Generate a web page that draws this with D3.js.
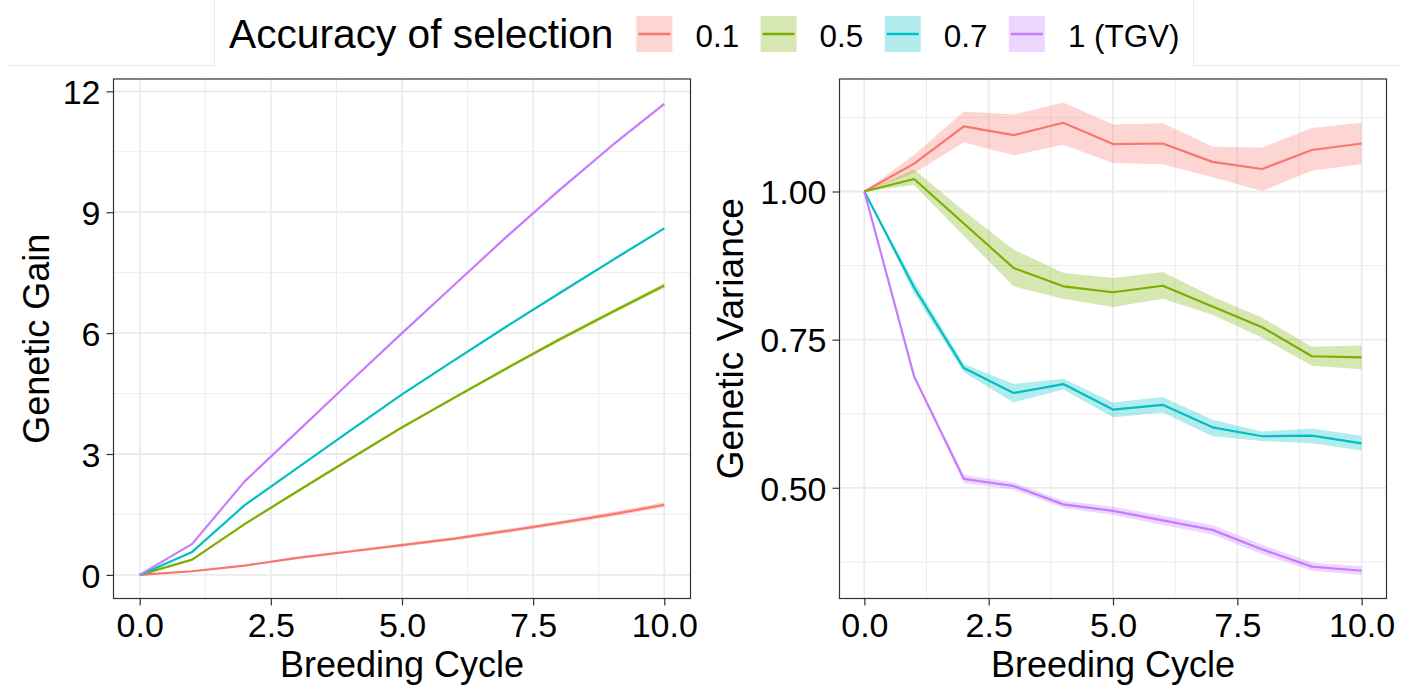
<!DOCTYPE html>
<html><head><meta charset="utf-8">
<script src="https://cdn.jsdelivr.net/npm/d3@7"></script>
<style>
body{margin:0;background:#fff}
text{font-family:"Liberation Sans", Arial, Helvetica, sans-serif; fill:#000}
</style>
</head><body>
<svg id="chart" width="1402" height="685"></svg>
<script>
// ---------------- DATA ----------------
const cycles = [0,1,2,3,4,5,6,7,8,9,10];
const seriesLabels = ["0.1","0.5","0.7","1 (TGV)"];
const seriesColors = ["#F8766D","#7CAE00","#00BFC4","#C77CFF"];
const legendTitle = "Accuracy of selection";

// Genetic gain (left panel)
const gain01   = [0,0.09,0.23,0.42,0.58,0.74,0.90,1.09,1.29,1.50,1.74];
const gain01Lo = [0,0.08,0.21,0.39,0.55,0.70,0.86,1.04,1.24,1.44,1.68];
const gain01Hi = [0,0.10,0.25,0.45,0.61,0.78,0.94,1.14,1.34,1.56,1.80];
const gain05   = [0,0.38,1.26,2.07,2.87,3.66,4.40,5.13,5.84,6.52,7.18];
const gain05Lo = [0,0.36,1.23,2.04,2.84,3.62,4.36,5.09,5.79,6.47,7.12];
const gain05Hi = [0,0.40,1.29,2.10,2.90,3.70,4.44,5.17,5.89,6.57,7.24];
const gain07   = [0,0.57,1.73,2.65,3.57,4.48,5.33,6.17,6.99,7.80,8.60];
const gain07Lo = [0,0.56,1.71,2.63,3.55,4.46,5.31,6.15,6.96,7.77,8.57];
const gain07Hi = [0,0.58,1.75,2.67,3.59,4.50,5.35,6.19,7.02,7.83,8.63];
const gain1    = [0,0.77,2.32,3.55,4.78,6.00,7.20,8.40,9.55,10.65,11.69];
const gain1Lo  = [0,0.76,2.30,3.53,4.76,5.98,7.18,8.37,9.52,10.62,11.66];
const gain1Hi  = [0,0.78,2.34,3.57,4.80,6.02,7.22,8.43,9.58,10.68,11.72];

// Genetic variance (right panel)
const var01   = [1.000,1.047,1.110,1.095,1.116,1.080,1.081,1.050,1.038,1.070,1.081];
const var01Lo = [1.000,1.031,1.083,1.061,1.079,1.048,1.046,1.024,1.001,1.035,1.046];
const var01Hi = [1.000,1.062,1.135,1.130,1.150,1.113,1.115,1.076,1.074,1.107,1.116];
const var05   = [1.000,1.021,0.946,0.871,0.840,0.830,0.841,0.806,0.771,0.722,0.720];
const var05Lo = [1.000,1.011,0.925,0.840,0.819,0.805,0.819,0.792,0.753,0.706,0.700];
const var05Hi = [1.000,1.037,0.967,0.902,0.863,0.854,0.864,0.823,0.787,0.738,0.740];
const var07   = [1.000,0.838,0.702,0.660,0.675,0.632,0.640,0.602,0.587,0.588,0.575];
const var07Lo = [1.000,0.828,0.695,0.644,0.666,0.619,0.627,0.587,0.579,0.575,0.563];
const var07Hi = [1.000,0.848,0.709,0.675,0.684,0.644,0.653,0.615,0.595,0.600,0.588];
const var1    = [1.000,0.688,0.515,0.503,0.472,0.461,0.445,0.429,0.396,0.367,0.360];
const var1Lo  = [1.000,0.684,0.508,0.497,0.466,0.454,0.437,0.421,0.388,0.360,0.353];
const var1Hi  = [1.000,0.692,0.522,0.509,0.478,0.468,0.453,0.437,0.404,0.374,0.367];

const xTicks = [0,2.5,5,7.5,10];
const xMinor = [1.25,3.75,6.25,8.75];
const gainTicks = [0,3,6,9,12];
const gainMinor = [1.5,4.5,7.5,10.5];
const varTicks = [0.50,0.75,1.00];
const varMinor = [0.375,0.625,0.875,1.125];
const xTitle = "Breeding Cycle";

// ---------------- DRAW ----------------
const svg = d3.select("#chart");
svg.append("rect").attr("width",1402).attr("height",685).attr("fill","#fff");

function build(vals, lo, hi){
  return cycles.map((c,i)=>({x:c, y:vals[i], lo:lo[i], hi:hi[i]}));
}
const leftSeries = [
  build(gain01,gain01Lo,gain01Hi), build(gain05,gain05Lo,gain05Hi),
  build(gain07,gain07Lo,gain07Hi), build(gain1,gain1Lo,gain1Hi)];
const rightSeries = [
  build(var01,var01Lo,var01Hi), build(var05,var05Lo,var05Hi),
  build(var07,var07Lo,var07Hi), build(var1,var1Lo,var1Hi)];

function expand(ext){ const r = ext[1]-ext[0]; return [ext[0]-0.05*r, ext[1]+0.05*r]; }

function panel(opt){
  const {x0,x1,y0,y1,series,yTicks,yMinor,yFmt,yTitle,yTitleX,yTitleSize} = opt;
  const xs = d3.scaleLinear().domain(expand(d3.extent(cycles))).range([x0,x1]);
  const all = series.flat();
  const ys = d3.scaleLinear().domain(expand([d3.min(all,d=>d.lo), d3.max(all,d=>d.hi)])).range([y1,y0]);
  const g = svg.append("g");
  const grid = g.append("g");
  grid.selectAll(".ym").data(yMinor).join("line")
    .attr("x1",x0).attr("x2",x1).attr("y1",d=>ys(d)).attr("y2",d=>ys(d))
    .attr("stroke","#ebebeb").attr("stroke-width",0.9);
  grid.selectAll(".xm").data(xMinor).join("line")
    .attr("y1",y0).attr("y2",y1).attr("x1",d=>xs(d)).attr("x2",d=>xs(d))
    .attr("stroke","#ebebeb").attr("stroke-width",0.9);
  grid.selectAll(".yM").data(yTicks).join("line")
    .attr("x1",x0).attr("x2",x1).attr("y1",d=>ys(d)).attr("y2",d=>ys(d))
    .attr("stroke","#ebebeb").attr("stroke-width",1.8);
  grid.selectAll(".xM").data(xTicks).join("line")
    .attr("y1",y0).attr("y2",y1).attr("x1",d=>xs(d)).attr("x2",d=>xs(d))
    .attr("stroke","#ebebeb").attr("stroke-width",1.8);
  const area = d3.area().x(d=>xs(d.x)).y0(d=>ys(d.lo)).y1(d=>ys(d.hi));
  series.forEach((s,i)=>{
    g.append("path").attr("d",area(s)).attr("fill",seriesColors[i]).attr("fill-opacity",0.3);
  });
  const line = d3.line().x(d=>xs(d.x)).y(d=>ys(d.y));
  series.forEach((s,i)=>{
    g.append("path").attr("d",line(s)).attr("fill","none")
      .attr("stroke",seriesColors[i]).attr("stroke-width",2.2).attr("stroke-linejoin","round");
  });
  g.append("rect").attr("x",x0).attr("y",y0).attr("width",x1-x0).attr("height",y1-y0)
    .attr("fill","none").attr("stroke","#333").attr("stroke-width",1.2);
  const ax = g.append("g").attr("transform",`translate(0,${y1})`)
    .call(d3.axisBottom(xs).tickValues(xTicks).tickFormat(d3.format(".1f")).tickSize(7).tickPadding(6));
  const ay = g.append("g").attr("transform",`translate(${x0},0)`)
    .call(d3.axisLeft(ys).tickValues(yTicks).tickFormat(yFmt).tickSize(7).tickPadding(6));
  [ax,ay].forEach(a=>{
    a.select(".domain").remove();
    a.selectAll(".tick line").attr("stroke","#333").attr("stroke-width",1.2);
    a.selectAll(".tick text").attr("font-size",34).attr("fill","#000")
      .attr("font-family","'Liberation Sans', Arial, sans-serif");
  });
  ax.selectAll(".tick text").attr("dy",null).attr("y",38.5);
  ay.selectAll(".tick text").attr("dy","0.36em");
  g.append("text").attr("x",(x0+x1)/2).attr("y",677).attr("text-anchor","middle")
    .attr("font-size",36).text(xTitle);
  g.append("text").attr("transform",`translate(${yTitleX},${(y0+y1)/2}) rotate(-90)`)
    .attr("text-anchor","middle").attr("font-size",yTitleSize).text(yTitle);
}

panel({x0:113.5,x1:690.5,y0:79,y1:598.5,series:leftSeries,yTicks:gainTicks,yMinor:gainMinor,
  yFmt:d3.format("d"),yTitle:"Genetic Gain",yTitleX:49,yTitleSize:36});
panel({x0:839.5,x1:1386.5,y0:79,y1:598.5,series:rightSeries,yTicks:varTicks,yMinor:varMinor,
  yFmt:d3.format(".2f"),yTitle:"Genetic Variance",yTitleX:743,yTitleSize:37});

// ---------------- LEGEND ----------------
svg.append("path").attr("d","M8,65.5H214.5V0M1193.5,0V65.5H1400")
  .attr("fill","none").attr("stroke","#e8e8e8").attr("stroke-width",1);
const lg = svg.append("g");
const tt = lg.append("text").attr("x",229).attr("y",48.3).attr("font-size",40.7).text(legendTitle);
let lx = 229 + tt.node().getComputedTextLength() + 23;
seriesLabels.forEach((lab,i)=>{
  lg.append("rect").attr("x",lx).attr("y",16).attr("width",36).attr("height",36)
    .attr("fill",seriesColors[i]).attr("fill-opacity",0.3);
  lg.append("line").attr("x1",lx+2).attr("x2",lx+34).attr("y1",34).attr("y2",34)
    .attr("stroke",seriesColors[i]).attr("stroke-width",2.4);
  const t = lg.append("text").attr("x",lx+59).attr("y",46.5).attr("font-size",31.4).text(lab);
  lx = lx + 59 + t.node().getComputedTextLength() + 21.5;
});
</script>
</body></html>
